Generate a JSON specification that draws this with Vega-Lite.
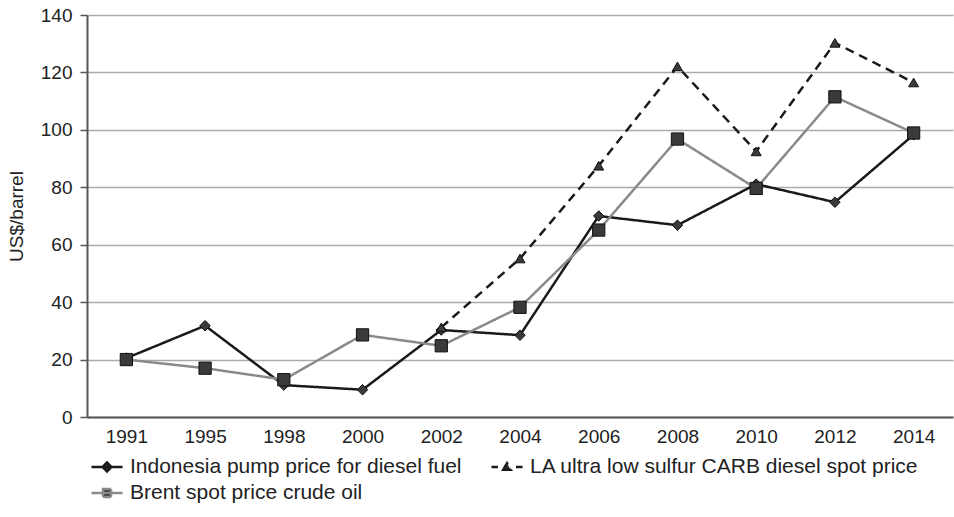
{
  "$schema": "https://vega.github.io/schema/vega-lite/v6.json",
  "width": 866,
  "height": 402,
  "autosize": "none",
  "padding": {"left": 87, "top": 15, "right": 1, "bottom": 100},
  "background": "white",
  "config": {
    "font": "Liberation Sans",
    "view": {"stroke": null},
    "axis": {"labelFont": "Liberation Sans", "titleFont": "Liberation Sans", "labelColor": "#222", "titleColor": "#222"}
  },
  "data": {
    "values": [
      {"year": "1991", "series": "Indonesia pump price for diesel fuel", "value": 20.5},
      {"year": "1995", "series": "Indonesia pump price for diesel fuel", "value": 31.8},
      {"year": "1998", "series": "Indonesia pump price for diesel fuel", "value": 11.1},
      {"year": "2000", "series": "Indonesia pump price for diesel fuel", "value": 9.5},
      {"year": "2002", "series": "Indonesia pump price for diesel fuel", "value": 30.3},
      {"year": "2004", "series": "Indonesia pump price for diesel fuel", "value": 28.5},
      {"year": "2006", "series": "Indonesia pump price for diesel fuel", "value": 70.0},
      {"year": "2008", "series": "Indonesia pump price for diesel fuel", "value": 66.8},
      {"year": "2010", "series": "Indonesia pump price for diesel fuel", "value": 81.1},
      {"year": "2012", "series": "Indonesia pump price for diesel fuel", "value": 74.8},
      {"year": "2014", "series": "Indonesia pump price for diesel fuel", "value": 98.3},
      {"year": "2002", "series": "LA ultra low sulfur CARB diesel spot price", "value": 31.2},
      {"year": "2004", "series": "LA ultra low sulfur CARB diesel spot price", "value": 55.2},
      {"year": "2006", "series": "LA ultra low sulfur CARB diesel spot price", "value": 87.5},
      {"year": "2008", "series": "LA ultra low sulfur CARB diesel spot price", "value": 122.1},
      {"year": "2010", "series": "LA ultra low sulfur CARB diesel spot price", "value": 92.5},
      {"year": "2012", "series": "LA ultra low sulfur CARB diesel spot price", "value": 130.3},
      {"year": "2014", "series": "LA ultra low sulfur CARB diesel spot price", "value": 116.5},
      {"year": "1991", "series": "Brent spot price crude oil", "value": 20.0},
      {"year": "1995", "series": "Brent spot price crude oil", "value": 17.0},
      {"year": "1998", "series": "Brent spot price crude oil", "value": 13.0},
      {"year": "2000", "series": "Brent spot price crude oil", "value": 28.6},
      {"year": "2002", "series": "Brent spot price crude oil", "value": 24.8},
      {"year": "2004", "series": "Brent spot price crude oil", "value": 38.2},
      {"year": "2006", "series": "Brent spot price crude oil", "value": 65.1},
      {"year": "2008", "series": "Brent spot price crude oil", "value": 96.8},
      {"year": "2010", "series": "Brent spot price crude oil", "value": 79.6},
      {"year": "2012", "series": "Brent spot price crude oil", "value": 111.5},
      {"year": "2014", "series": "Brent spot price crude oil", "value": 98.9}
    ]
  },
  "encoding": {
    "x": {
      "field": "year", "type": "ordinal", "sort": "ascending",
      "scale": {"padding": 0.5},
      "axis": {"title": null, "labelAngle": 0, "ticks": false, "grid": false, "labelFontSize": 19, "labelPadding": 10, "domainColor": "#555", "domainWidth": 2}
    },
    "y": {
      "field": "value", "type": "quantitative",
      "scale": {"domain": [0, 140], "nice": false},
      "axis": {"title": "US$/barrel", "titleFontSize": 19, "titleFontWeight": "normal", "titlePadding": 14, "values": [0, 20, 40, 60, 80, 100, 120, 140], "labelFontSize": 19, "labelPadding": 8, "tickSize": 7, "tickColor": "#555", "tickWidth": 1.5, "domainColor": "#555", "domainWidth": 2, "gridColor": "#aaa", "gridWidth": 1.5}
    }
  },
  "layer": [
    {
      "mark": {"type": "line", "strokeWidth": 2.5},
      "encoding": {
        "color": {
          "field": "series", "type": "nominal", "sort": ["Indonesia pump price for diesel fuel", "LA ultra low sulfur CARB diesel spot price", "Brent spot price crude oil"],
          "scale": {"domain": ["Indonesia pump price for diesel fuel", "LA ultra low sulfur CARB diesel spot price", "Brent spot price crude oil"], "range": ["#1a1a1a", "#1a1a1a", "#8a8a8a"]},
          "legend": {
            "title": null, "orient": "none", "legendX": 6, "legendY": 438, "columns": 2, "direction": "horizontal", "columnPadding": 24, "rowPadding": 2,
            "symbolType": "stroke", "symbolSize": 625, "symbolStrokeWidth": 2.5, "symbolOpacity": 1, "labelFontSize": 21, "labelFont": "Liberation Sans", "labelColor": "#222", "labelOffset": 9, "labelLimit": 500,
            "encode": {
              "symbols": {
                "update": {
                  "shape": {"signal": "datum.value === 'Indonesia pump price for diesel fuel' ? 'M-1.24,0L1.24,0M-0.36,0L0,-0.36L0.36,0L0,0.36Z' : datum.value === 'LA ultra low sulfur CARB diesel spot price' ? 'M-1.24,0L-0.72,0M-0.3,0.22L0,-0.3L0.3,0.22ZM0.72,0L1.24,0' : 'M-1.24,0L1.24,0M-0.32,-0.32L0.32,-0.32L0.32,0.32L-0.32,0.32Z'"},
                  "size": {"value": 625},
                  "fill": {"value": "#333"},
                  "stroke": {"signal": "datum.value === 'Brent spot price crude oil' ? '#8a8a8a' : '#1a1a1a'"},
                  "strokeWidth": {"value": 2.5},
                  "strokeDash": {"value": [1, 0]}
                }
              }
            }
          }
        },
        "strokeDash": {
          "field": "series", "type": "nominal",
          "scale": {"domain": ["Indonesia pump price for diesel fuel", "LA ultra low sulfur CARB diesel spot price", "Brent spot price crude oil"], "range": [[1, 0], [9, 6], [1, 0]]},
          "legend": null
        }
      }
    },
    {
      "mark": {"type": "point", "filled": true, "fill": "#3a3a3a", "stroke": "#111", "strokeWidth": 1, "opacity": 1},
      "encoding": {
        "shape": {
          "condition": [
            {"test": "datum.series === 'Indonesia pump price for diesel fuel'", "value": "diamond"},
            {"test": "datum.series === 'LA ultra low sulfur CARB diesel spot price'", "value": "triangle-up"}
          ],
          "value": "square"
        },
        "size": {
          "condition": [
            {"test": "datum.series === 'Indonesia pump price for diesel fuel'", "value": 110},
            {"test": "datum.series === 'LA ultra low sulfur CARB diesel spot price'", "value": 100}
          ],
          "value": 150
        }
      }
    }
  ]
}
